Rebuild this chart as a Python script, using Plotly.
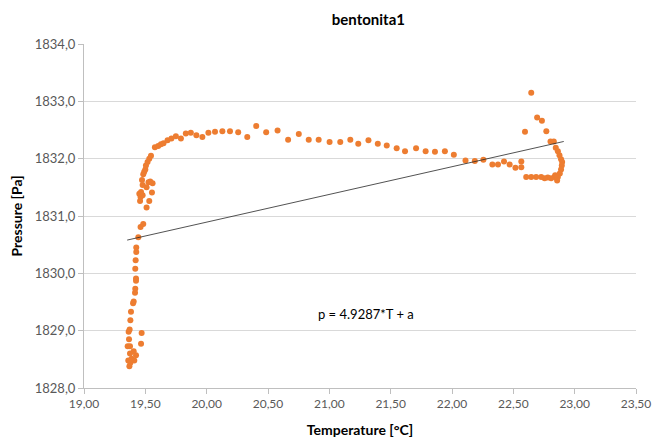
import plotly.graph_objects as go

# Measured temperature [°C] and pressure [Pa] for sample bentonita1
temperature = [
    19.370, 19.378, 19.361, 19.410, 19.388, 19.424, 19.375, 19.405, 19.356, 19.375,
    19.465, 19.367, 19.470, 19.364, 19.372, 19.378, 19.383, 19.400, 19.405, 19.416,
    19.418, 19.424, 19.424, 19.418, 19.421, 19.426, 19.426, 19.443, 19.461, 19.483,
    19.510, 19.457, 19.532, 19.461, 19.478, 19.451, 19.554, 19.465, 19.510, 19.478,
    19.559, 19.526, 19.540, 19.473, 19.483, 19.491, 19.500, 19.505, 19.518, 19.532,
    19.546, 19.578, 19.605, 19.627, 19.648, 19.681, 19.713, 19.749, 19.790, 19.830,
    19.871, 19.916, 19.965, 20.014, 20.068, 20.128, 20.190, 20.257, 20.331, 20.404,
    20.485, 20.578, 20.664, 20.751, 20.832, 20.913, 21.002, 21.089, 21.171, 21.236,
    21.319, 21.395, 21.468, 21.549, 21.617, 21.707, 21.785, 21.861, 21.942, 22.015,
    22.110, 22.186, 22.256, 22.329, 22.375, 22.424, 22.470, 22.517, 22.565, 22.565,
    22.595, 22.646, 22.694, 22.733, 22.769, 22.803, 22.830, 22.846, 22.863, 22.876,
    22.889, 22.898, 22.895, 22.889, 22.879, 22.863, 22.857, 22.841, 22.836, 22.808,
    22.781, 22.755, 22.727, 22.686, 22.646, 22.605,
]
pressure = [
    1828.38, 1828.44, 1828.48, 1828.48, 1828.51, 1828.57, 1828.60, 1828.64, 1828.73, 1828.73,
    1828.77, 1828.85, 1828.96, 1828.98, 1829.02, 1829.18, 1829.33, 1829.48, 1829.51, 1829.66,
    1829.73, 1829.87, 1829.91, 1830.08, 1830.23, 1830.37, 1830.45, 1830.63, 1830.81, 1830.86,
    1831.15, 1831.26, 1831.26, 1831.33, 1831.36, 1831.39, 1831.41, 1831.42, 1831.50, 1831.54,
    1831.57, 1831.59, 1831.60, 1831.63, 1831.73, 1831.77, 1831.81, 1831.88, 1831.94, 1832.00,
    1832.05, 1832.20, 1832.22, 1832.25, 1832.27, 1832.32, 1832.35, 1832.39, 1832.35, 1832.44,
    1832.45, 1832.41, 1832.38, 1832.45, 1832.47, 1832.48, 1832.48, 1832.46, 1832.38, 1832.57,
    1832.46, 1832.49, 1832.33, 1832.43, 1832.33, 1832.33, 1832.29, 1832.29, 1832.33, 1832.26,
    1832.32, 1832.26, 1832.23, 1832.18, 1832.13, 1832.18, 1832.13, 1832.12, 1832.13, 1832.07,
    1831.97, 1831.96, 1831.98, 1831.90, 1831.90, 1831.95, 1831.90, 1831.84, 1831.95, 1831.85,
    1832.47, 1833.15, 1832.72, 1832.66, 1832.48, 1832.30, 1832.30, 1832.19, 1832.13, 1832.06,
    1831.99, 1831.94, 1831.88, 1831.81, 1831.74, 1831.68, 1831.62, 1831.71, 1831.68, 1831.66,
    1831.67, 1831.66, 1831.68, 1831.68, 1831.68, 1831.68,
]

# Linear trend line end points
trend_T = [19.352, 22.911]
trend_p = [1830.58, 1832.30]

equation_text = "p = 4.9287*T + a"
equation_pos = (21.30, 1829.29)

FONT = "Lato"
GRID = "#d9d9d9"
AXIS = "#bfbfbf"
TICK_TEXT = "#595959"

fig = go.Figure()
fig.add_trace(go.Scatter(
    x=temperature, y=pressure, mode="markers",
    marker=dict(color="#ED7D31", size=6, line=dict(width=0)),
    showlegend=False,
))
fig.add_trace(go.Scatter(
    x=trend_T, y=trend_p, mode="lines",
    line=dict(color="#262626", width=0.8),
    showlegend=False,
))

fig.add_annotation(
    x=equation_pos[0], y=equation_pos[1], text=equation_text,
    showarrow=False, font=dict(family=FONT, size=13, color="#000000"),
)

fig.update_layout(
    width=652, height=438,
    margin=dict(l=84, r=16, t=44, b=50),
    paper_bgcolor="white", plot_bgcolor="white",
    separators=", ",
    font=dict(family=FONT, size=13, color=TICK_TEXT),
    title=dict(
        text="<b>bentonita1</b>", x=0.565, xanchor="center", y=0.955, yanchor="middle",
        font=dict(family=FONT, size=15, color="#000000"),
    ),
    xaxis=dict(
        range=[19, 23.5], dtick=0.5, tick0=19, tickformat=".2f",
        automargin=False,
        showgrid=False, zeroline=False,
        showline=True, linecolor=AXIS, linewidth=1,
        ticks="outside", ticklen=5, tickcolor=AXIS,
        ticklabeloverflow="allow",
        tickfont=dict(family=FONT, size=12, color=TICK_TEXT),
        title=dict(text="<b>Temperature [°C]</b>", standoff=14,
                   font=dict(family=FONT, size=14, color="#000000")),
    ),
    yaxis=dict(
        range=[1828, 1834], dtick=1, tick0=1828, tickformat=".1f",
        automargin=False,
        showgrid=True, gridcolor=GRID, gridwidth=1, zeroline=False,
        showline=True, linecolor=AXIS, linewidth=1,
        ticks="outside", ticklen=5, tickcolor=AXIS,
        ticklabeloverflow="allow",
        tickfont=dict(family=FONT, size=13, color=TICK_TEXT),
        title=dict(text="<b>Pressure [Pa]</b>", standoff=8,
                   font=dict(family=FONT, size=14, color="#000000")),
    ),
)

fig.write_html("out.html")
